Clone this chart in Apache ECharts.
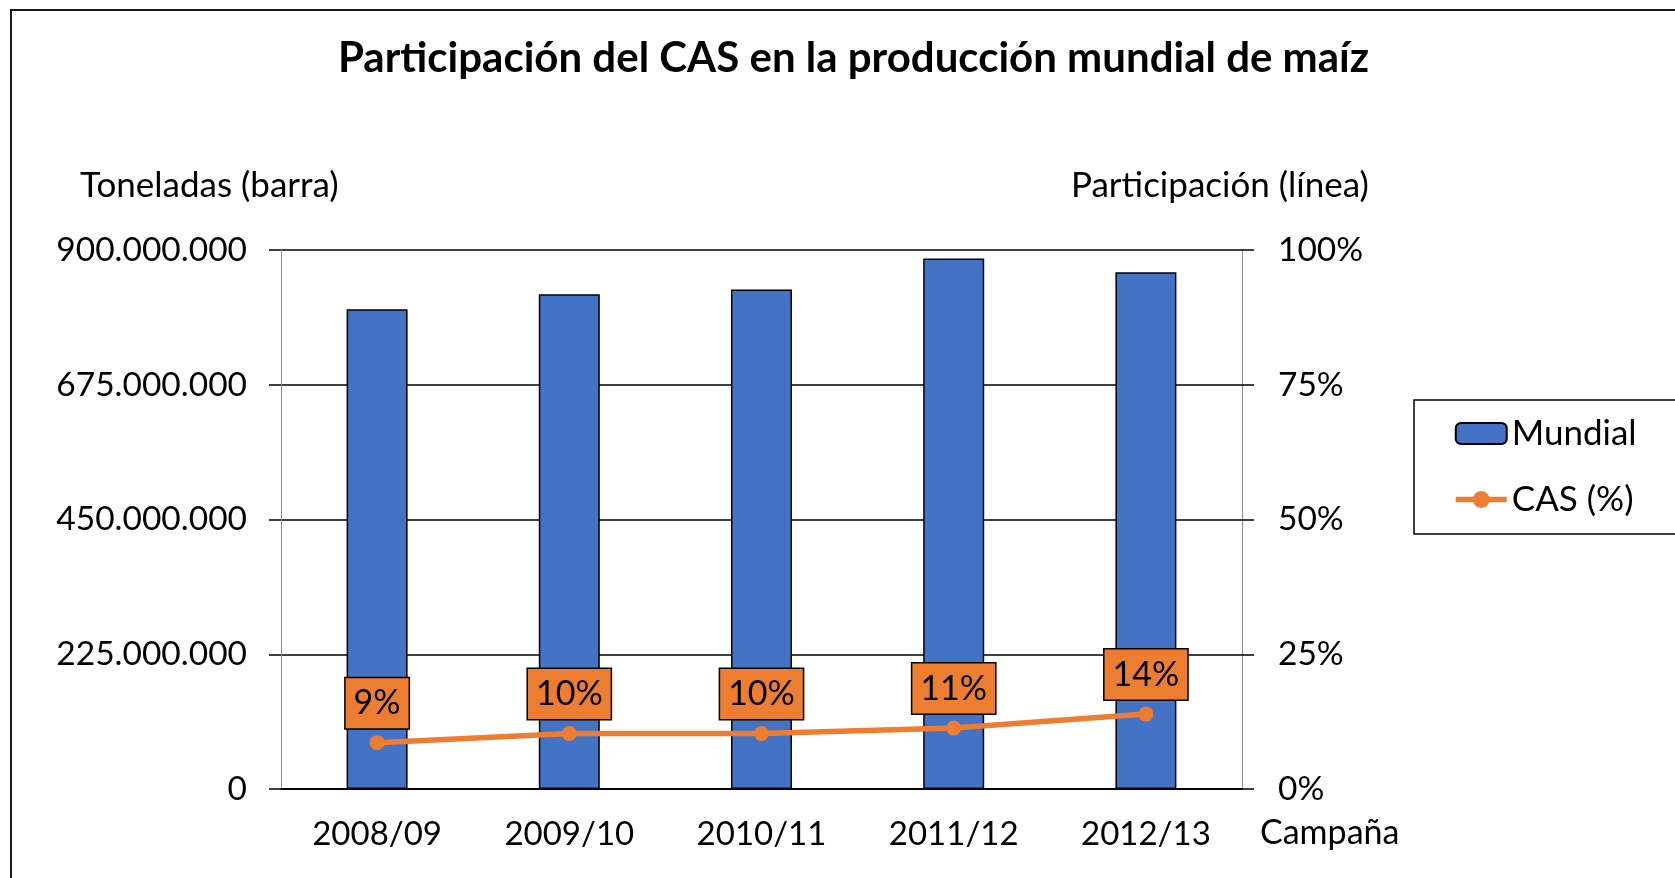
<!DOCTYPE html>
<html>
<head>
<meta charset="utf-8">
<script src="https://cdn.jsdelivr.net/npm/echarts@6/dist/echarts.min.js"></script>
<style>
  html, body { margin: 0; padding: 0; background: #fff; }
  #main { width: 1675px; height: 878px; }
</style>
</head>
<body>
<div id="main"></div>
<script>
const campaigns = ['2008/09', '2009/10', '2010/11', '2011/12', '2012/13'];
const mundial = [801000000, 826000000, 834000000, 886000000, 863000000];
const casPct = [8.6, 10.3, 10.3, 11.3, 13.9];

const FONT = 'Lato';
const chart = echarts.init(document.getElementById('main'));

const option = {
  backgroundColor: '#fff',
  textStyle: { fontFamily: FONT, color: '#000' },
  title: {
    text: 'Participación del CAS en la producción mundial de maíz',
    left: 338,
    top: 37,
    padding: 0,
    textStyle: { fontFamily: FONT, fontSize: 42, fontWeight: 'bold', color: '#000' }
  },
  legend: {
    orient: 'vertical',
    left: 1414,
    top: 400,
    padding: [16, 45, 17, 39],
    itemGap: 31,
    itemWidth: 51,
    itemHeight: 21,
    borderColor: '#000',
    borderWidth: 1.5,
    textStyle: { fontFamily: FONT, fontSize: 35, color: '#000' },
    data: [
      { name: 'Mundial' },
      { name: 'CAS (%)', lineStyle: { width: 5.5 } }
    ]
  },
  grid: { left: 281, right: 433, top: 250, bottom: 89 },
  xAxis: {
    type: 'category',
    data: campaigns,
    axisLine: { lineStyle: { color: '#000', width: 2 } },
    axisTick: { show: false },
    axisLabel: { fontSize: 33, color: '#000', margin: 29 }
  },
  yAxis: [{
    type: 'value',
    min: 0,
    max: 900000000,
    interval: 225000000,
    axisLine: { show: true, lineStyle: { color: '#8c8c8c', width: 1 } },
    axisTick: { show: true, length: 12, lineStyle: { color: '#000', width: 1.5 } },
    splitLine: { lineStyle: { color: '#000', width: 1.5 } },
    axisLabel: {
      fontSize: 33.5,
      color: '#000',
      margin: 34,
      formatter: v => v === 0 ? '0' : v.toString().replace(/\B(?=(\d{3})+(?!\d))/g, '.')
    }
  }, {
    type: 'value',
    min: 0,
    max: 100,
    interval: 25,
    axisLine: { show: true, lineStyle: { color: '#8c8c8c', width: 1 } },
    axisTick: { show: true, length: 12, lineStyle: { color: '#000', width: 1.5 } },
    splitLine: { show: false },
    axisLabel: { fontSize: 33.5, color: '#000', margin: 36, formatter: '{value}%' }
  }],
  series: [{
    name: 'Mundial',
    type: 'bar',
    data: mundial,
    barWidth: 61,
    itemStyle: { color: '#4472C4', borderColor: '#000', borderWidth: 1.5 }
  }, {
    name: 'CAS (%)',
    type: 'line',
    yAxisIndex: 1,
    data: casPct,
    symbol: 'circle',
    symbolSize: 15,
    lineStyle: { color: '#ED7D31', width: 5.5 },
    itemStyle: { color: '#ED7D31' },
    label: {
      show: true,
      position: 'top',
      distance: 7,
      fontSize: 34,
      color: '#000',
      backgroundColor: '#ED7D31',
      borderColor: '#000',
      borderWidth: 1.5,
      padding: [8, 8, 8, 8],
      formatter: p => Math.round(p.value) + '%'
    }
  }],
  graphic: [{
    type: 'rect',
    shape: { x: 11, y: 10, width: 1700, height: 900 },
    style: { fill: 'none', stroke: '#1a1a1a', lineWidth: 2 },
    silent: true
  }, {
    type: 'text',
    left: 80,
    top: 168,
    style: { text: 'Toneladas (barra)', font: '35px ' + FONT, fill: '#000' }
  }, {
    type: 'text',
    left: 1071,
    top: 168,
    style: { text: 'Participación (línea)', font: '35px ' + FONT, fill: '#000' }
  }, {
    type: 'text',
    left: 1260,
    top: 816,
    style: { text: 'Campaña', font: '34px ' + FONT, fill: '#000' }
  }]
};

chart.setOption(option);
</script>
</body>
</html>
